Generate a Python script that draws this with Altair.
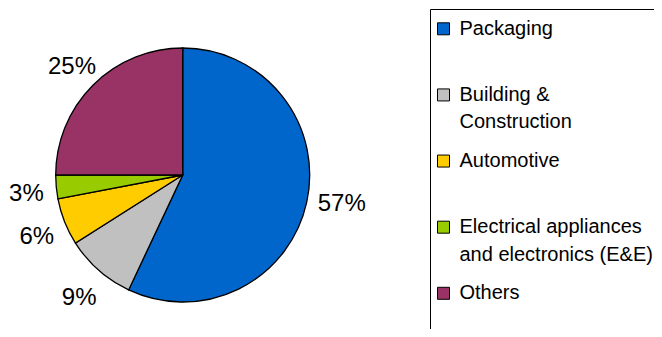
import altair as alt
import pandas as pd

categories = [
    "Packaging",
    "Building & Construction",
    "Automotive",
    "Electrical appliances and electronics (E&E)",
    "Others",
]
legend_labels = [
    "Packaging",
    "Building &\nConstruction",
    "Automotive",
    "Electrical appliances\nand electronics (E&E)",
    "Others",
]
shares = [57, 9, 6, 3, 25]
pct_labels = ["57%", "9%", "6%", "3%", "25%"]
colors = ["#0066CC", "#C0C0C0", "#FFCC00", "#99CC00", "#993366"]

df = pd.DataFrame({
    "category": categories,
    "legend": legend_labels,
    "share": shares,
    "label": pct_labels,
    "idx": list(range(len(categories))),
})

FONT = "Arial, Liberation Sans, sans-serif"
CX, CY = 174.7, 167.0
W, H = 646, 321

color = alt.Color("category:N", scale=alt.Scale(domain=categories, range=colors), legend=None)
theta_scale = alt.Scale(domain=[0, 100])
order = alt.Order("idx:Q")

base = alt.Chart(df)

pie = base.mark_arc(radius=127, stroke="black", strokeWidth=1.3).encode(
    theta=alt.Theta("share:Q", stack=True, scale=theta_scale),
    order=order, color=color,
    x=alt.value(CX), y=alt.value(CY),
)

# mid-angle of every slice, for the outside labels
lab = base.transform_window(
    cum="sum(share)", sort=[alt.SortField("idx")], frame=[None, 0]
).transform_calculate(mid="datum.cum - datum.share / 2")

lab_enc = dict(
    theta=alt.Theta("mid:Q", scale=theta_scale),
    text="label:N",
    x=alt.value(CX), y=alt.value(CY),
)

text_right = lab.transform_filter("datum.mid < 50").mark_text(
    radius=163, dy=-7, fontSize=24, font=FONT, color="black"
).encode(**lab_enc)

text_left = lab.transform_filter("datum.mid >= 50").mark_text(
    radius=158, dx=1, dy=4, fontSize=24, font=FONT, color="black"
).encode(**lab_enc)

ly = alt.Y("idx:Q", scale=alt.Scale(domain=[0, 4], range=[20.8, 285.3]), axis=None)

leg_sq = base.mark_square(size=144, stroke="black", strokeWidth=1, opacity=1, filled=True).encode(
    x=alt.value(435.5), y=ly, color=color,
)

leg_txt = base.mark_text(
    align="left", baseline="alphabetic", dy=6, fontSize=20, font=FONT,
    lineBreak="\n", lineHeight=27.5, color="black",
).encode(x=alt.value(451.5), y=ly, text="legend:N")

box_df = pd.DataFrame({"k": [0]})
box_left = alt.Chart(box_df).mark_rule(color="black", strokeWidth=1).encode(
    x=alt.value(422.5), y=alt.value(1.5), y2=alt.value(H)
)
box_top = alt.Chart(box_df).mark_rule(color="black", strokeWidth=1).encode(
    x=alt.value(422.5), x2=alt.value(W), y=alt.value(1.5)
)

chart = alt.layer(pie, text_right, text_left, leg_sq, leg_txt, box_left, box_top).properties(
    width=W, height=H,
    autosize=alt.AutoSizeParams(type="none"),
    padding=0,
).configure_view(stroke=None)

chart.save("out.html", embed_options={"renderer": "svg", "actions": False})
